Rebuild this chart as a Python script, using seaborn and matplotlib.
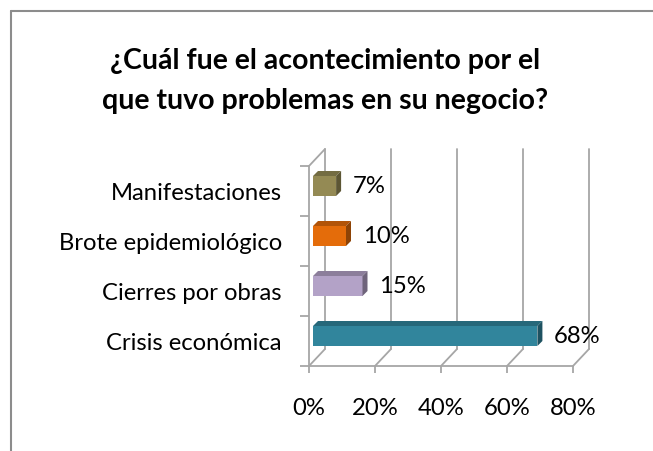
import matplotlib
matplotlib.use("Agg")
import matplotlib.pyplot as plt
import matplotlib.transforms as mtransforms
from matplotlib.patches import Polygon
from matplotlib.lines import Line2D
import matplotlib.colors as mcolors
import seaborn as sns
import numpy as np

# ---- data ----
categories = ["Manifestaciones", "Brote epidemiológico", "Cierres por obras", "Crisis económica"]
values = [7, 10, 15, 68]
colors = ["#948A54", "#E46C0A", "#B3A2C7", "#31859C"]
xticks = [0, 20, 40, 60, 80]
xtick_labels = ["0%", "20%", "40%", "60%", "80%"]
title = "¿Cuál fue el acontecimiento por el\nque tuvo problemas en su negocio?"

sns.set_theme(style="white")
plt.rcParams["font.family"] = ["Lato", "DejaVu Sans"]
plt.rcParams["text.color"] = "black"

W, H = 653, 452
fig = plt.figure(figsize=(W / 100, H / 100), dpi=100)

# front plane of the 3D plot, in pixels
left_px, right_px, top_px, bot_px = 309, 573, 167, 367
ax = fig.add_axes([left_px / W, 1 - bot_px / H, (right_px - left_px) / W, (bot_px - top_px) / H])
ax.patch.set_alpha(0)

sns.barplot(x=values, y=categories, hue=categories, palette=colors, orient="h",
            width=0.4, legend=False, ax=ax, saturation=1, zorder=3)
ax.set_xlim(0, 80)
ax.set_ylim(len(categories) - 0.5, -0.5)

px_x = (right_px - left_px) / 80.0      # px per x unit
px_y = (bot_px - top_px) / len(categories)  # px per category

gray = "#A6A6A6"
FS = 17.2
# back-wall depth
D_dx, D_dy = 16 / px_x, -17 / px_y
ymin, ymax = -0.5, len(categories) - 0.5
for v in xticks:
    ax.add_line(Line2D([v + D_dx, v + D_dx], [ymax + D_dy, ymin + D_dy], color=gray, lw=1.3,
                       clip_on=False, zorder=0.5))
    ax.add_line(Line2D([v, v + D_dx], [ymax, ymax + D_dy], color=gray, lw=1.3,
                       clip_on=False, zorder=0.5))
ax.add_line(Line2D([0, D_dx], [ymin, ymin + D_dy], color=gray, lw=1.3, clip_on=False, zorder=0.5))

# bars: shift slightly into depth, add top and side faces
off = mtransforms.ScaledTranslation(4 / 100, 5 / 100, fig.dpi_scale_trans)
d_dx, d_dy = 5 / px_x, -5 / px_y
for p, c in zip(ax.patches, colors):
    p.set_transform(ax.transData + off)
    p.set_edgecolor("none")
    x0, y0 = p.get_x(), p.get_y()
    w, h = p.get_width(), p.get_height()
    x1 = x0 + w
    ytop, ybot = y0, y0 + h
    rgb = np.array(mcolors.to_rgb(c))
    top = Polygon([(x0, ytop), (x1, ytop), (x1 + d_dx, ytop + d_dy), (x0 + d_dx, ytop + d_dy)],
                  closed=True, facecolor=rgb * 0.78, edgecolor="none",
                  transform=ax.transData + off, clip_on=False, zorder=3)
    side = Polygon([(x1, ytop), (x1, ybot), (x1 + d_dx, ybot + d_dy), (x1 + d_dx, ytop + d_dy)],
                   closed=True, facecolor=rgb * 0.62, edgecolor="none",
                   transform=ax.transData + off, clip_on=False, zorder=3)
    ax.add_patch(top)
    ax.add_patch(side)

for i, v in enumerate(values):
    ax.annotate(f"{v}%", xy=(v, i), xytext=(15, 3.6), textcoords="offset points",
                ha="left", va="center", fontsize=FS, color="black", annotation_clip=False)

# axes styling
for s in ["top", "right"]:
    ax.spines[s].set_visible(False)
for s in ["left", "bottom"]:
    ax.spines[s].set_color(gray)
    ax.spines[s].set_linewidth(1.3)
ax.set_xticks(xticks)
ax.set_xticklabels(xtick_labels)
ax.tick_params(axis="x", which="major", direction="out", length=5, width=1.3, color=gray,
               pad=17.5, labelsize=FS, labelcolor="black", bottom=True)
ax.set_yticks(np.arange(len(categories)))
ax.set_yticklabels(categories)
ax.set_yticks(np.arange(-0.5, len(categories)), minor=True)
ax.tick_params(axis="y", which="major", length=0, pad=19.5, labelsize=FS, labelcolor="black")
ax.tick_params(axis="y", which="minor", direction="out", length=6.5, width=1.3, color=gray, left=True)
ax.set_xlabel("")
ax.set_ylabel("")
ax.grid(False)

fig.text(325 / W, 1 - 81 / H, title, ha="center", va="center", fontsize=20.5,
         fontweight="bold", linespacing=1.7, color="black")

# chart border (top and left visible)
fig.add_artist(Line2D([11 / W, 1], [1 - 12 / H, 1 - 12 / H], color="#8C8C8C", lw=1.5,
                      transform=fig.transFigure))
fig.add_artist(Line2D([11 / W, 11 / W], [0, 1 - 12 / H], color="#8C8C8C", lw=1.5,
                      transform=fig.transFigure))

fig.savefig("out.png", dpi=100)
